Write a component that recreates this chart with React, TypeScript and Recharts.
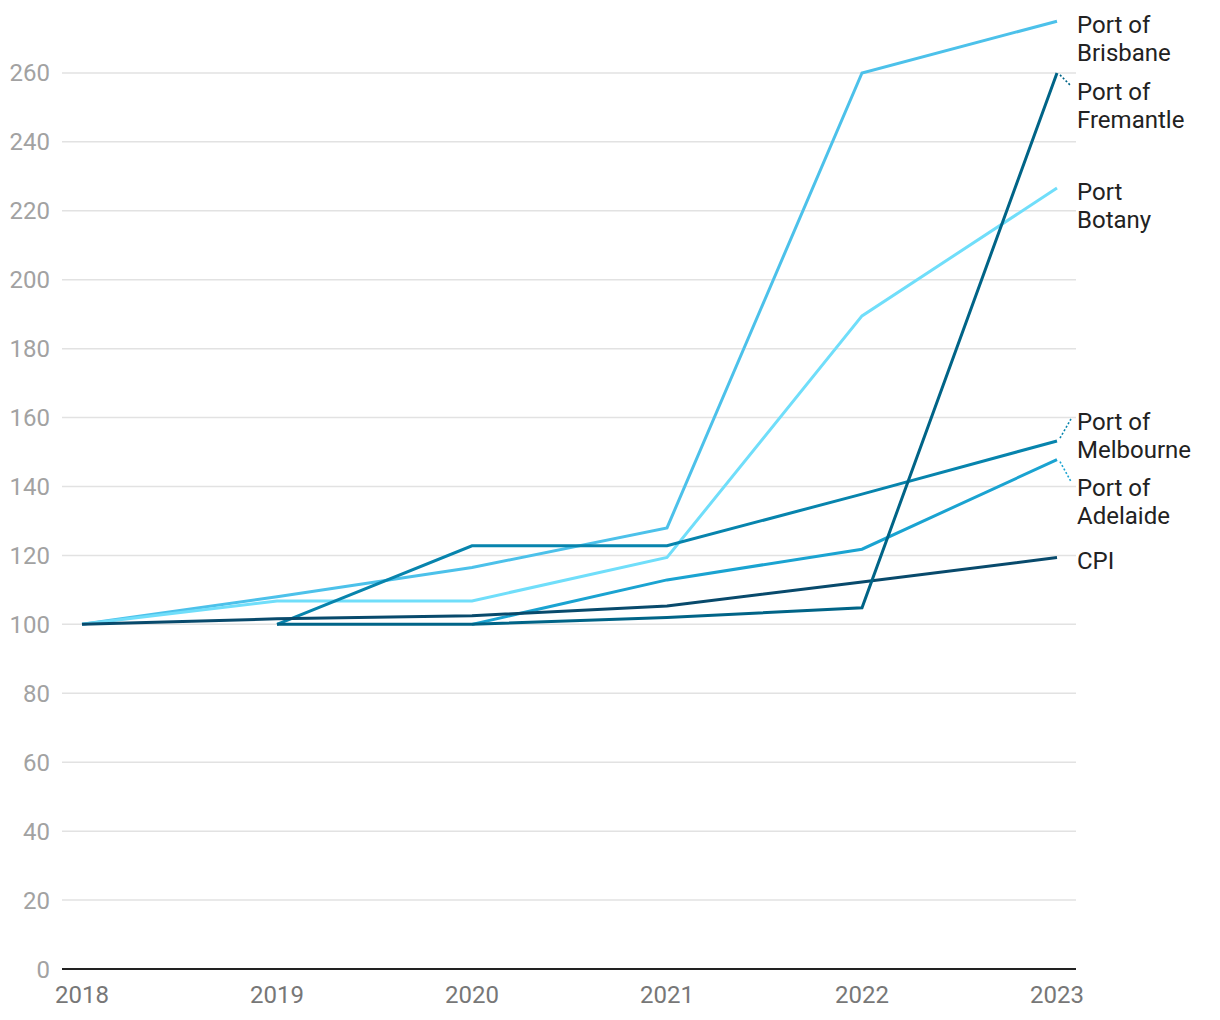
import { LineChart, Line, XAxis, YAxis, CartesianGrid, LabelList } from 'recharts';

const years = ['2018', '2019', '2020', '2021', '2022', '2023'];
const brisbane = [100, 108, 116.5, 128, 260, 275];
const fremantle = [null, 100, 100, 102, 104.8, 260];
const botany = [100, 106.8, 106.8, 119.4, 189.5, 226.6];
const melbourne = [null, 100, 122.8, 122.8, 137.8, 153.2];
const adelaide = [null, null, 100, 112.9, 121.8, 147.8];
const cpi = [100, 101.6, 102.5, 105.3, 112.3, 119.4];
const yTicks = [0, 20, 40, 60, 80, 100, 120, 140, 160, 180, 200, 220, 240, 260];

const series = [
  { key: 'brisbane', lines: ['Port of', 'Brisbane'], color: '#4cc1ea', shift: 0 },
  { key: 'botany', lines: ['Port', 'Botany'], color: '#70defa', shift: 0 },
  { key: 'melbourne', lines: ['Port of', 'Melbourne'], color: '#0784ad', shift: -23 },
  { key: 'adelaide', lines: ['Port of', 'Adelaide'], color: '#1aa3d1', shift: 24 },
  { key: 'cpi', lines: ['CPI'], color: '#084a6c', shift: 0 },
  { key: 'fremantle', lines: ['Port of', 'Fremantle'], color: '#006487', shift: 15 },
];

const data = years.map((year, i) => ({
  year,
  brisbane: brisbane[i],
  fremantle: fremantle[i],
  botany: botany[i],
  melbourne: melbourne[i],
  adelaide: adelaide[i],
  cpi: cpi[i],
}));

function endLabel(s: (typeof series)[number]) {
  return (props: any) => {
    const { x, y, index } = props;
    if (index !== years.length - 1 || x == null || y == null) return null;
    const tx = x + 20;
    const base = y + 12 + s.shift;
    return (
      <g>
        {s.shift !== 0 && (
          <line
            x1={x + 3}
            y1={y + (s.shift > 0 ? 2 : -3)}
            x2={x + 14}
            y2={y + (s.shift > 0 ? s.shift - 2 : s.shift + 1)}
            stroke={s.color}
            strokeWidth={1.6}
            strokeDasharray="2 2"
          />
        )}
        <text x={tx} y={base} fill="#222" fontSize={24} fontFamily="Roboto">
          {s.lines.map((t, j) => (
            <tspan key={j} x={tx} dy={j === 0 ? 0 : 28}>
              {t}
            </tspan>
          ))}
        </text>
      </g>
    );
  };
}

export default function App() {
  return (
    <div style={{ position: 'absolute', left: 0, top: 0, background: '#fff' }}>
      <LineChart
        width={1220}
        height={1020}
        data={data}
        margin={{ top: 4, right: 144, left: 0, bottom: 0 }}
        style={{ fontFamily: 'Roboto' }}
      >
        <CartesianGrid
          vertical={false}
          horizontalValues={yTicks}
          stroke="#e2e2e2"
          strokeWidth={1.5}
        />
        <XAxis
          dataKey="year"
          height={51}
          padding={{ left: 20, right: 19 }}
          axisLine={{ stroke: '#222', strokeWidth: 2 }}
          tickLine={false}
          tickMargin={11}
          tick={{ fill: '#777', fontSize: 24 }}
        />
        <YAxis
          width={62}
          domain={[0, 280]}
          ticks={yTicks}
          axisLine={false}
          tickLine={false}
          tickMargin={6}
          tick={{ fill: '#a2a2a2', fontSize: 24 }}
        />
        {series.map((s) => (
          <Line
            key={s.key}
            type="linear"
            dataKey={s.key}
            stroke={s.color}
            strokeWidth={3}
            dot={false}
            activeDot={false}
            isAnimationActive={false}
          >
            <LabelList dataKey={s.key} content={endLabel(s)} />
          </Line>
        ))}
      </LineChart>
    </div>
  );
}
